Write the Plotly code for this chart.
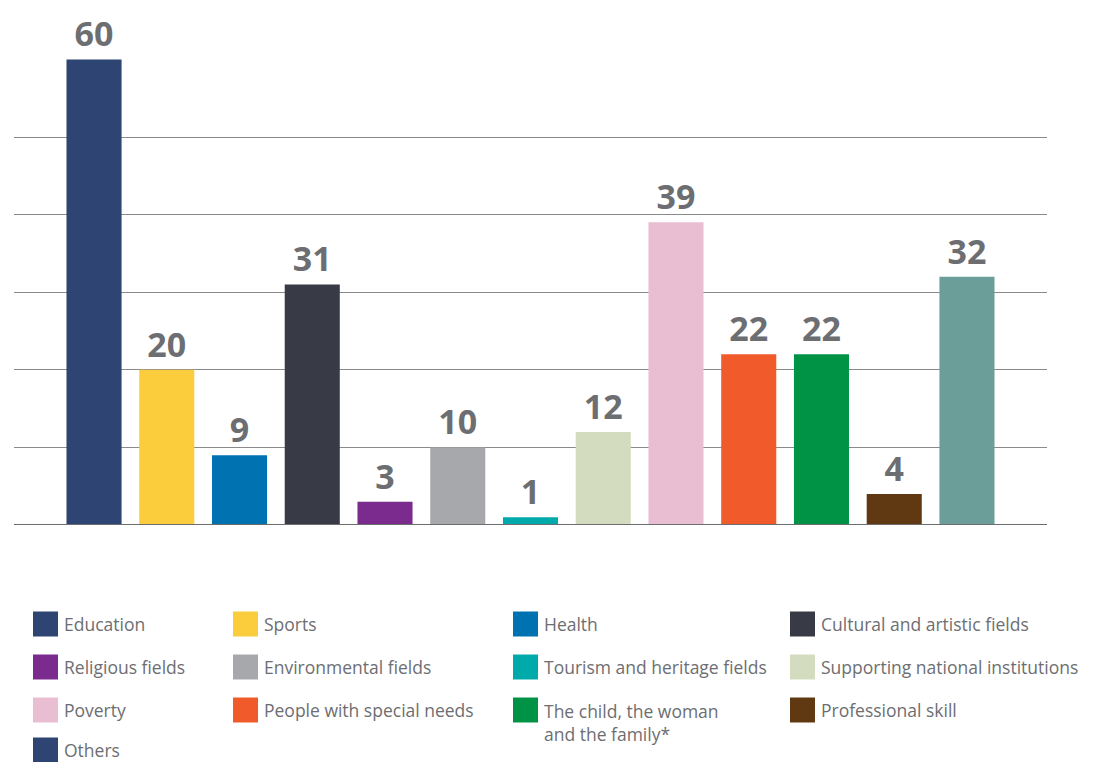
import plotly.graph_objects as go

categories = ["Education", "Sports", "Health", "Cultural and artistic fields",
              "Religious fields", "Environmental fields", "Tourism and heritage fields",
              "Supporting national institutions", "Poverty", "People with special needs",
              "The child, the woman<br>and the family*", "Professional skill", "Others"]
values = [60, 20, 9, 31, 3, 10, 1, 12, 39, 22, 22, 4, 32]
bar_colors = ["#2e4473", "#fbcd3c", "#0072b1", "#383b45", "#7b2a8d", "#a7a8ab", "#00aaab",
              "#d4dcc0", "#e9bed2", "#f15a2b", "#009245", "#603913", "#6b9e98"]
legend_colors = ["#2e4473", "#fbcd3c", "#0072b1", "#383b45", "#7b2a8d", "#a7a8ab", "#00aaab",
                 "#d4dcc0", "#e9bed2", "#f15a2b", "#009245", "#603913", "#2e4473"]
grid_ticks = [10, 20, 30, 40, 50]

OFF = 8  # browser body margin
W, H = 1097 - OFF, 762 - OFF
x_idx = list(range(len(categories)))


def px(x):
    return (x - OFF) / W


def py(y):
    return 1 - (y - OFF) / H


fig = go.Figure()
fig.add_trace(go.Bar(
    x=x_idx, y=values, marker=dict(color=bar_colors, line=dict(width=0)),
    width=0.757, text=[str(v) for v in values], textposition="outside",
    textfont=dict(family="Open Sans", size=34, color="#6d6e71", weight="bold"),
    cliponaxis=False, showlegend=False, hoverinfo="skip"))

shapes = []
annotations = []
# baseline
shapes.append(dict(type="line", xref="paper", yref="y", x0=px(14), x1=px(1047), y0=0, y1=0,
                   line=dict(color="#6d6e71", width=2)))

# legend grid
col_x = [33, 233, 513, 790]
row_y = [624, 667, 710, 750]
for i, (lab, col) in enumerate(zip(categories, legend_colors)):
    cx = col_x[i % 4]
    cy = row_y[i // 4]
    shapes.append(dict(type="rect", xref="paper", yref="paper",
                       x0=px(cx), x1=px(cx + 25), y0=py(cy - 12.5), y1=py(cy + 12.5),
                       fillcolor=col, line=dict(width=0)))
    multi = "<br>" in lab
    annotations.append(dict(xref="paper", yref="paper", x=px(cx + 29),
                            y=py(cy - 13) if multi else py(cy),
                            xanchor="left", yanchor="top" if multi else "middle",
                            text=lab, showarrow=False, align="left",
                            font=dict(family="Open Sans", size=17.5, color="#6d6e71")))

fig.update_layout(
    width=W, height=H, margin=dict(l=0, r=0, t=0, b=0),
    paper_bgcolor="white", plot_bgcolor="white",
    xaxis=dict(domain=[px(14), px(1047)], range=[-1.1, 13.1], showticklabels=False,
               showgrid=False, zeroline=False, showline=False, ticks=""),
    yaxis=dict(domain=[py(525), 1], range=[0, 525 / 7.88], tickvals=grid_ticks,
               showticklabels=False, showgrid=True, gridcolor="#8a8a8d", gridwidth=1,
               zeroline=False, showline=False, ticks=""),
    shapes=shapes, annotations=annotations, bargap=0.25,
)

fig.write_html("out.html")
